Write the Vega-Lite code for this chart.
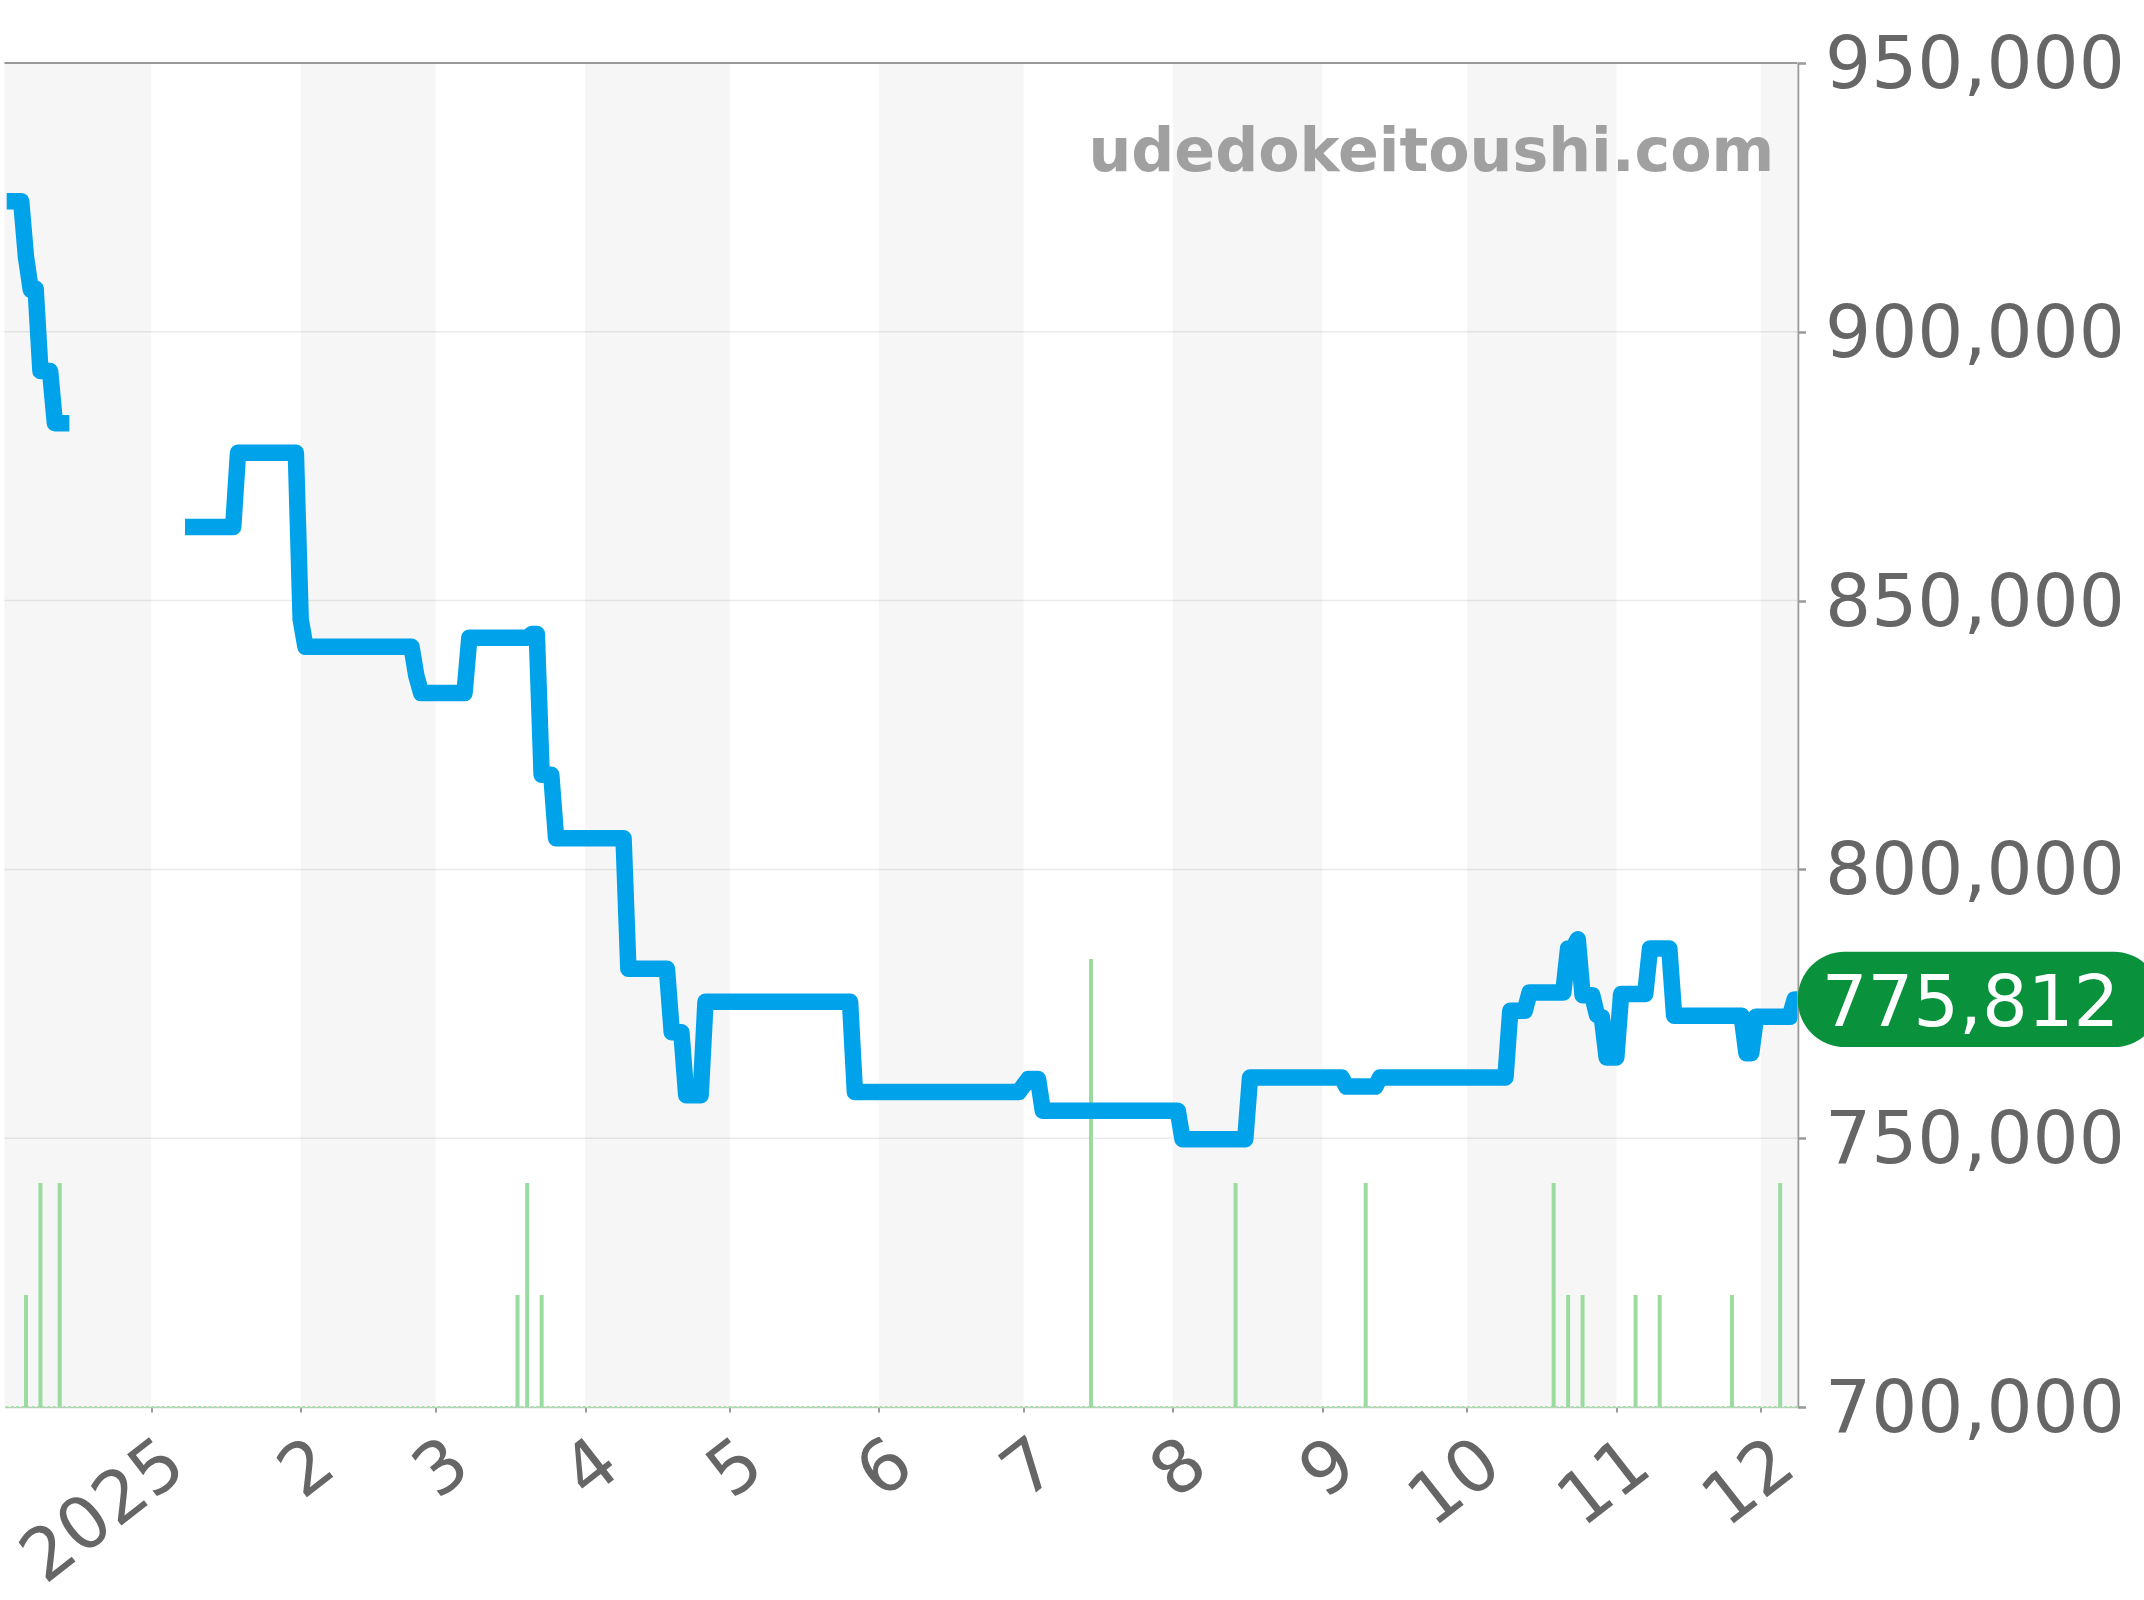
{
"$schema":"https://vega.github.io/schema/vega-lite/v6.json",
"autosize":"none",
"padding":{"left":4.5,"top":63,"right":346.5,"bottom":193},
"width":1793,"height":1344,
"background":"white",
"config":{"view":{"stroke":null},"font":"DejaVu Sans"},
"resolve":{"scale":{"y":"independent"}},
"layer":[
{"data":{"values":[
{"date":"2024-12-01T13:00:00Z","end":"2025-01-01"},
{"date":"2025-02-01","end":"2025-03-01"},
{"date":"2025-04-01","end":"2025-05-01"},
{"date":"2025-06-01","end":"2025-07-01"},
{"date":"2025-08-01","end":"2025-09-01"},
{"date":"2025-10-01","end":"2025-11-01"},
{"date":"2025-12-01","end":"2025-12-08T14:24:00Z"}]},
"mark":{"type":"rect","color":"#f6f6f6"},
"encoding":{
"x":{"field":"date","type":"temporal","title":null,
"scale":{"type":"utc","domain":[{"year":2024,"month":12,"date":1,"hours":13,"utc":true},{"year":2025,"month":12,"date":8,"hours":14,"minutes":24,"utc":true}]},
"axis":{"values":[{"year":2025,"month":1,"date":1,"utc":true},{"year":2025,"month":2,"date":1,"utc":true},{"year":2025,"month":3,"date":1,"utc":true},{"year":2025,"month":4,"date":1,"utc":true},{"year":2025,"month":5,"date":1,"utc":true},{"year":2025,"month":6,"date":1,"utc":true},{"year":2025,"month":7,"date":1,"utc":true},{"year":2025,"month":8,"date":1,"utc":true},{"year":2025,"month":9,"date":1,"utc":true},{"year":2025,"month":10,"date":1,"utc":true},{"year":2025,"month":11,"date":1,"utc":true},{"year":2025,"month":12,"date":1,"utc":true}],
"labelExpr":"utcmonth(datum.value)==0 ? '2025' : ''+(utcmonth(datum.value)+1)",
"grid":false,"domainColor":"#c4c4c4","domainWidth":1.5,"tickColor":"#999999","tickWidth":2,"tickSize":5,
"labelColor":"#666666","labelFontSize":72,"labelFont":"DejaVu Sans","labelAngle":-38,"labelAlign":"right","labelBaseline":"top","labelPadding":15,"labelOffset":2.5,"labelFlush":false,"labelOverlap":false,"labelBound":false,"labelLimit":0}},
"x2":{"field":"end"}}},
{"data":{"values":[{"price":750000},{"price":800000},{"price":850000},{"price":900000}]},
"mark":{"type":"rule","color":"#000000","opacity":0.08,"strokeWidth":1.5},
"encoding":{"y":{"field":"price","type":"quantitative","scale":{"domain":[700000,950000],"nice":false,"zero":false},"axis":null}}},
{"data":{"values":[{"price":950000}]},
"mark":{"type":"rule","color":"#999999","strokeWidth":2},
"encoding":{"y":{"field":"price","type":"quantitative","scale":{"domain":[700000,950000],"nice":false,"zero":false},"axis":null}}},
{"data":{"values":[{"count":0}]},
"mark":{"type":"rule","color":"#a8e0ad","strokeWidth":2,"strokeDash":[3,2.2]},
"encoding":{"y":{"field":"count","type":"quantitative","scale":{"domain":[0,12],"nice":false},"axis":null}}},
{"data":{"values":[
{"date":"2024-12-06","count":1},{"date":"2024-12-09","count":2},{"date":"2024-12-13","count":2},
{"date":"2025-03-18","count":1},{"date":"2025-03-20","count":2},{"date":"2025-03-23","count":1},
{"date":"2025-07-15","count":4},{"date":"2025-08-14","count":2},{"date":"2025-09-10","count":2},
{"date":"2025-10-19","count":2},{"date":"2025-10-22","count":1},{"date":"2025-10-25","count":1},
{"date":"2025-11-05","count":1},{"date":"2025-11-10","count":1},{"date":"2025-11-25","count":1},{"date":"2025-12-05","count":2}]},
"mark":{"type":"rule","color":"#9adb9f","strokeWidth":4},
"encoding":{
"x":{"field":"date","type":"temporal","title":null},
"y":{"field":"count","type":"quantitative","scale":{"domain":[0,12],"nice":false},"axis":null},
"y2":{"datum":0}}},
{"data":{"values":[
{"run":"a","date":"2024-12-02","price":924300},{"run":"a","date":"2024-12-05","price":924300},{"run":"a","date":"2024-12-06","price":913900},{"run":"a","date":"2024-12-07","price":907800},{"run":"a","date":"2024-12-08","price":908000},{"run":"a","date":"2024-12-09","price":892700},{"run":"a","date":"2024-12-11","price":892700},{"run":"a","date":"2024-12-12","price":883000},{"run":"a","date":"2024-12-15","price":883000},
{"run":"b","date":"2025-01-08","price":863700},{"run":"b","date":"2025-01-18","price":863700},{"run":"b","date":"2025-01-19","price":877500},{"run":"b","date":"2025-01-31","price":877500},{"run":"b","date":"2025-02-01","price":846500},{"run":"b","date":"2025-02-02","price":841400},{"run":"b","date":"2025-02-24","price":841400},{"run":"b","date":"2025-02-25","price":836000},{"run":"b","date":"2025-02-26","price":832800},{"run":"b","date":"2025-03-07","price":832800},{"run":"b","date":"2025-03-08","price":843100},{"run":"b","date":"2025-03-20","price":843100},{"run":"b","date":"2025-03-21","price":843800},{"run":"b","date":"2025-03-22","price":843800},{"run":"b","date":"2025-03-23","price":817600},{"run":"b","date":"2025-03-25","price":817600},{"run":"b","date":"2025-03-26","price":805800},{"run":"b","date":"2025-04-09","price":805800},{"run":"b","date":"2025-04-10","price":781500},{"run":"b","date":"2025-04-18","price":781500},{"run":"b","date":"2025-04-19","price":769700},{"run":"b","date":"2025-04-21","price":769700},{"run":"b","date":"2025-04-22","price":758000},{"run":"b","date":"2025-04-25","price":758000},{"run":"b","date":"2025-04-26","price":775400},{"run":"b","date":"2025-05-26","price":775400},{"run":"b","date":"2025-05-27","price":758600},{"run":"b","date":"2025-06-30","price":758600},{"run":"b","date":"2025-07-02","price":761000},{"run":"b","date":"2025-07-04","price":761000},{"run":"b","date":"2025-07-05","price":755100},{"run":"b","date":"2025-08-02","price":755100},{"run":"b","date":"2025-08-03","price":749800},{"run":"b","date":"2025-08-16","price":749800},{"run":"b","date":"2025-08-17","price":761300},{"run":"b","date":"2025-09-05","price":761300},{"run":"b","date":"2025-09-06","price":759600},{"run":"b","date":"2025-09-12","price":759600},{"run":"b","date":"2025-09-13","price":761300},{"run":"b","date":"2025-10-09","price":761300},{"run":"b","date":"2025-10-10","price":773700},{"run":"b","date":"2025-10-13","price":773700},{"run":"b","date":"2025-10-14","price":777100},{"run":"b","date":"2025-10-21","price":777100},{"run":"b","date":"2025-10-22","price":785300},{"run":"b","date":"2025-10-23","price":785300},{"run":"b","date":"2025-10-24","price":787000},{"run":"b","date":"2025-10-25","price":776600},{"run":"b","date":"2025-10-27","price":776600},{"run":"b","date":"2025-10-28","price":772900},{"run":"b","date":"2025-10-29","price":772500},{"run":"b","date":"2025-10-30","price":765000},{"run":"b","date":"2025-11-01","price":765000},{"run":"b","date":"2025-11-02","price":776800},{"run":"b","date":"2025-11-07","price":776800},{"run":"b","date":"2025-11-08","price":785300},{"run":"b","date":"2025-11-12","price":785300},{"run":"b","date":"2025-11-13","price":772800},{"run":"b","date":"2025-11-27","price":772800},{"run":"b","date":"2025-11-28","price":765800},{"run":"b","date":"2025-11-29","price":765800},{"run":"b","date":"2025-11-30","price":772600},{"run":"b","date":"2025-12-07","price":772600},{"run":"b","date":"2025-12-08","price":775812},{"run":"b","date":"2025-12-09","price":775812}]},
"mark":{"type":"line","color":"#00a2e9","strokeWidth":16.5,"strokeJoin":"round","strokeCap":"butt","clip":true,"interpolate":"linear"},
"encoding":{
"x":{"field":"date","type":"temporal","title":null},
"y":{"field":"price","type":"quantitative","title":null,"scale":{"domain":[700000,950000],"nice":false,"zero":false},
"axis":{"orient":"right","values":[700000,750000,800000,850000,900000,950000],"format":",d","grid":false,"domainColor":"#999999","domainWidth":2.5,"tickColor":"#999999","tickWidth":2.5,"tickSize":8,"labelColor":"#666666","labelFontSize":72.5,"labelFont":"DejaVu Sans","labelPadding":19,"labelOffset":2.5,"labelOverlap":false,"labelBound":false,"labelFlush":false,"labelLimit":0}},
"detail":{"field":"run"}}},
{"data":{"values":[{"date":"2025-12-03T19:00:00Z","price":930000,"label":"udedokeitoushi.com"}]},
"mark":{"type":"text","align":"right","baseline":"alphabetic","font":"DejaVu Sans","fontWeight":"bold","fontSize":60.2,"color":"#a0a0a0"},
"encoding":{
"x":{"field":"date","type":"temporal","title":null},
"y":{"field":"price","type":"quantitative","scale":{"domain":[700000,950000],"nice":false,"zero":false},"axis":null},
"text":{"field":"label"}}},
{"data":{"values":[{"date":"2025-12-08T16:00:00Z","end":"2026-02-22","top":784682,"bottom":766942}]},
"mark":{"type":"rect","color":"#0a913c","cornerRadius":47},
"encoding":{
"x":{"field":"date","type":"temporal","title":null},
"x2":{"field":"end"},
"y":{"field":"top","type":"quantitative","scale":{"domain":[700000,950000],"nice":false,"zero":false},"axis":null},
"y2":{"field":"bottom"}}},
{"data":{"values":[{"date":"2026-01-13T12:00:00Z","price":775812}]},
"mark":{"type":"text","align":"center","baseline":"middle","font":"DejaVu Sans","fontSize":72,"color":"#ffffff","dy":5},
"encoding":{
"x":{"field":"date","type":"temporal","title":null},
"y":{"field":"price","type":"quantitative","scale":{"domain":[700000,950000],"nice":false,"zero":false},"axis":null},
"text":{"field":"price","type":"quantitative","format":","}}}
]
}
